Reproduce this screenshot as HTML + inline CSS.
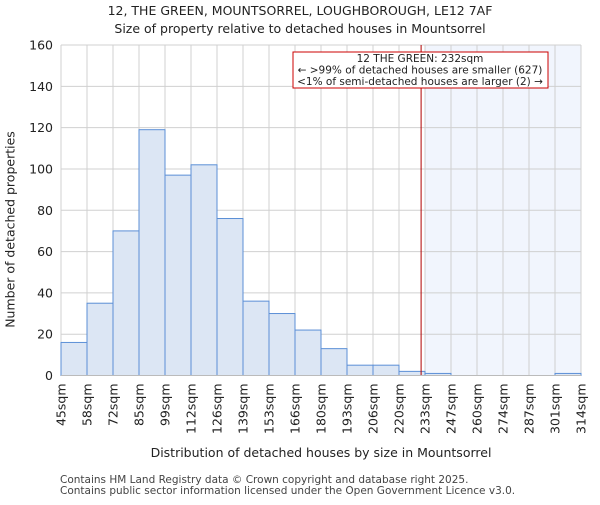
<!DOCTYPE html>
<html><head><meta charset="utf-8"><style>
body{margin:0;background:#fff}
svg text{font-family:"DejaVu Sans","Liberation Sans",sans-serif;fill:#222}
</style></head><body>
<svg id="c" width="600" height="500"></svg>
<script>
const categories=["45sqm","58sqm","72sqm","85sqm","99sqm","112sqm","126sqm","139sqm","153sqm","166sqm","180sqm","193sqm","206sqm","220sqm","233sqm","247sqm","260sqm","274sqm","287sqm","301sqm","314sqm"];
const counts=[16,35,70,119,97,102,76,36,30,22,13,5,5,2,1,0,0,0,0,1];
const yTicks=[0,20,40,60,80,100,120,140,160];
const propertyBin=13.85;
const highlightStartBin=14;
const NS="http://www.w3.org/2000/svg",svg=document.getElementById('c');
const L=61,R=581,T=45,B=375.5,n=counts.length,bw=(R-L)/n;
const x=i=>L+i*bw, y=v=>B-(v/160)*(B-T);
function el(t,a,p){const e=document.createElementNS(NS,t);for(const k in a)e.setAttribute(k,a[k]);(p||svg).appendChild(e);return e;}
let e=el('rect',{x:x(highlightStartBin),y:T,width:R-x(highlightStartBin),height:B-T,fill:'#f1f5fd'});

for(const t of yTicks){e=el('line',{x1:L,x2:R,y1:y(t),y2:y(t),stroke:'#d0d0d0','stroke-width':1});

e=el('text',{x:L-8,y:y(t)+4.5,'text-anchor':'end','font-size':12.5});e.textContent=t;
}
for(let i=0;i<=n;i++){e=el('line',{x1:x(i),x2:x(i),y1:T,y2:B,stroke:'#d0d0d0','stroke-width':1});
}
counts.forEach((v,i)=>{if(v<=0)return;e=el('rect',{x:x(i),y:y(v),width:bw,height:B-y(v),fill:'#dce6f4',stroke:'#5b8fd6','stroke-width':1});
});
categories.forEach((c,i)=>{const px=x(i)+4.5,py=B+8;e=el('text',{x:px,y:py,'text-anchor':'end','font-size':12.5,transform:`rotate(-90 ${px} ${py})`});e.textContent=c;
});
e=el('line',{x1:x(propertyBin),x2:x(propertyBin),y1:T,y2:B,stroke:'#b00000','stroke-width':1});

e=el('rect',{x:293,y:52,width:255,height:36,fill:'#fff',stroke:'#cc0000','stroke-width':1});

[["12 THE GREEN: 232sqm",62],["← >99% of detached houses are smaller (627)",73.5],["<1% of semi-detached houses are larger (2) →",85]].forEach(([t,yy])=>{
e=el('text',{x:420,y:yy,'text-anchor':'middle','font-size':10.5});e.textContent=t;
});
e=el('line',{x1:L,x2:R,y1:B,y2:B,stroke:'#bbb'});
</script>
<div style="position:absolute;left:0;top:0;width:600px;text-align:center;font:12.5px 'DejaVu Sans','Liberation Sans',sans-serif;color:#222;line-height:18px;padding-top:2px">12, THE GREEN, MOUNTSORREL, LOUGHBOROUGH, LE12 7AF<br>Size of property relative to detached houses in Mountsorrel</div>
<div style="position:absolute;left:-110px;top:222px;width:240px;text-align:center;white-space:nowrap;transform:rotate(-90deg);transform-origin:center;font:12.5px 'DejaVu Sans',sans-serif;color:#222">Number of detached properties</div>
<div style="position:absolute;left:61px;width:520px;top:445px;text-align:center;font:12.5px 'DejaVu Sans',sans-serif;color:#222">Distribution of detached houses by size in Mountsorrel</div>
<div style="position:absolute;left:60px;top:475px;font:10.5px 'DejaVu Sans',sans-serif;color:#444;line-height:11px">Contains HM Land Registry data © Crown copyright and database right 2025.<br>Contains public sector information licensed under the Open Government Licence v3.0.</div>
</body></html>
